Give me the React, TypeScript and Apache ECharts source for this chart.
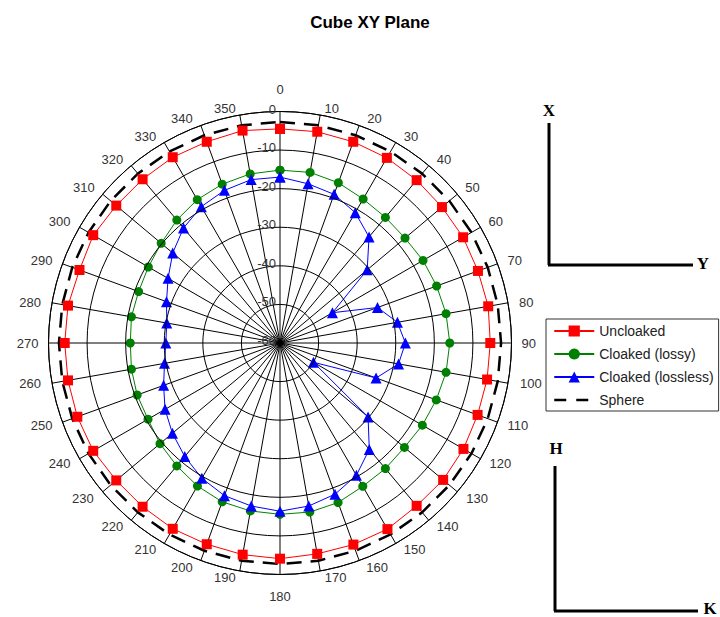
import React, { useEffect, useRef } from "react";
import * as echarts from "echarts";

const angles = [0, 10, 20, 30, 40, 50, 60, 70, 80, 90, 100, 110, 120, 130, 140, 150, 160, 170, 180, 190, 200, 210, 220, 230, 240, 250, 260, 270, 280, 290, 300, 310, 320, 330, 340, 350];
const angleTickLabels = ["0", "10", "20", "30", "40", "50", "60", "70", "80", "90", "100", "110", "120", "130", "140", "150", "160", "170", "180", "190", "200", "210", "220", "230", "240", "250", "260", "270", "280", "290", "300", "310", "320", "330", "340", "350"];
const radiusTicks = [-60, -50, -40, -30, -20, -10, 0];

const uncloaked = [-4.5, -4.4, -4.5, -4.6, -4.9, -5.2, -5.2, -5.4, -5.2, -5.5, -5.5, -5.5, -5.1, -4.8, -4.9, -4.3, -4.4, -4.5, -4.1, -4.3, -4.5, -4.4, -4.6, -4.6, -4.1, -4.1, -4.2, -4.2, -4.2, -4.7, -4.1, -4.6, -4.6, -4.4, -4.5, -4.1];
const cloakedLossy = [-15.2, -15.1, -15.8, -16.9, -17.5, -17.7, -17.2, -16.8, -16.3, -16.0, -16.3, -16.9, -17.4, -17.9, -17.5, -17.1, -16.0, -15.5, -15.6, -15.8, -16.2, -17.2, -18.4, -19.4, -20.5, -20.6, -20.9, -21.2, -20.9, -21.0, -20.6, -19.8, -18.4, -17.1, -16.2, -15.5];
const cloakedLossless = [-17.0, -18.1, -19.0, -21.0, -24.1, -30.5, -44.3, -33.1, -29.1, -27.5, -28.8, -33.5, -50.0, -30.2, -24.0, -20.4, -18.3, -17.1, -16.4, -17.1, -17.9, -19.5, -21.6, -23.6, -25.6, -27.9, -29.6, -30.4, -30.2, -28.7, -26.5, -23.7, -21.1, -19.2, -17.9, -17.0];
const sphere = [-2.7, -2.7, -2.7, -2.7, -2.7, -2.7, -2.7, -2.7, -2.7, -2.7, -2.7, -2.7, -2.7, -2.7, -2.7, -2.7, -2.7, -2.7, -2.7, -2.7, -2.7, -2.7, -2.7, -2.7, -2.7, -2.7, -2.7, -2.7, -2.7, -2.7, -2.7, -2.7, -2.7, -2.7, -2.7, -2.7];

// label placement styling (padding [top,right,bottom,left], optional lineHeight)
const labelPads: number[][] = [
  [0, 0, 16, 0], [0, 0, 0, 23], [0, 0, 0, 8], [0, 0, 0, 8], [0, 0, 0, 8], [0, 0, 0, 8], [0, 0, 0, 8], [0, 0, 0, 10], [0, 0, 0, 11], [0, 0, 0, 10],
  [0, 0, 0, 12], [0, 0, 0, 10], [0, 0, 0, 9], [0, 0, 0, 9], [0, 0, 0, 8], [0, 0, 0, 8], [0, 0, 0, 7], [0, 0, 0, 31], [15, 0, 0, 0], [0, 30, 0, 0],
  [0, 8, 0, 0], [0, 8, 0, 0], [0, 8, 0, 0], [0, 9, 0, 0], [0, 9, 0, 0], [0, 10, 0, 0], [0, 11, 0, 0], [0, 10, 0, 0], [0, 11, 0, 0], [0, 10, 0, 0],
  [0, 9, 0, 0], [0, 8, 0, 0], [0, 8, 0, 0], [0, 8, 0, 0], [0, 8, 0, 0], [0, 30, 0, 0],
];
const labelLineHeights: Record<number, number> = { 70: 6, 110: 6, 250: 6, 290: 6, 120: 10, 240: 10, 60: 12, 300: 12 };

const closed = (vals: number[]) => {
  const pts = vals.map((v, i) => [v, angles[i]]);
  pts.push([vals[0], 360]);
  return pts;
};

export default function App() {
  const ref = useRef<HTMLDivElement>(null);
  useEffect(() => {
    if (!ref.current) return;
    const chart = echarts.init(ref.current, undefined, { renderer: "svg" });
    const font = "Arial, 'Liberation Sans', sans-serif";
    const serif = "'Times New Roman', 'Liberation Serif', serif";
    const rich: Record<string, any> = {};
    angles.forEach((a, i) => {
      const st: any = { fontFamily: font, fontSize: 13, color: "#333", padding: labelPads[i] };
      if (labelLineHeights[a]) st.lineHeight = labelLineHeights[a];
      rich["a" + a] = st;
    });
    chart.setOption({
      animation: false,
      backgroundColor: "#ffffff",
      title: {
        text: "Cube XY Plane",
        left: 365,
        top: 9,
        textAlign: "center",
        textStyle: { fontFamily: font, fontSize: 17, fontWeight: "bold", color: "#000" },
      },
      polar: { center: [280, 343], radius: 231.5 },
      angleAxis: {
        type: "value",
        min: 0,
        max: 360,
        interval: 10,
        startAngle: 90,
        clockwise: true,
        axisLine: { show: true, lineStyle: { color: "#000", width: 1 } },
        axisTick: { show: false },
        axisLabel: {
          margin: 0,
          fontFamily: font,
          fontSize: 13,
          color: "#333",
          rich,
          formatter: (v: number) => {
            const i = angles.indexOf(v);
            return i >= 0 ? `{a${v}|${angleTickLabels[i]}}` : "";
          },
        },
        splitLine: { show: true, lineStyle: { color: "#000", width: 1 } },
      },
      radiusAxis: {
        type: "value",
        min: -60,
        max: 0,
        interval: 10,
        axisLine: { show: false },
        axisTick: { show: false },
        axisLabel: {
          fontFamily: font,
          fontSize: 13,
          color: "#333",
          margin: 4,
          rich: { r: { fontFamily: font, fontSize: 13, color: "#333", padding: [0, 0, 5, 0] } },
          formatter: (v: number) => (radiusTicks.indexOf(v) >= 0 ? `{r|${v}}` : ""),
        },
        splitLine: { show: true, lineStyle: { color: "#000", width: 1 } },
        z: 10,
      },
      legend: {
        orient: "vertical",
        left: 546,
        top: 319,
        itemWidth: 40,
        itemHeight: 14,
        itemGap: 9,
        padding: [5, 5, 4, 7],
        borderColor: "#333",
        borderWidth: 1,
        borderRadius: 0,
        textStyle: { fontFamily: font, fontSize: 14, color: "#222" },
        data: [
          "Uncloaked",
          "Cloaked (lossy)",
          "Cloaked (lossless)",
          { name: "Sphere", itemStyle: { opacity: 0 }, lineStyle: { type: [12, 10], width: 2.5, color: "#000" } },
        ],
      },
      series: [
        {
          name: "Sphere",
          type: "line",
          coordinateSystem: "polar",
          data: closed(sphere),
          showSymbol: false,
          symbol: "none",
          lineStyle: { color: "#000", width: 2.5, type: [15, 9] },
          itemStyle: { color: "#000" },
          z: 2,
        },
        {
          name: "Uncloaked",
          type: "line",
          coordinateSystem: "polar",
          data: closed(uncloaked),
          symbol: "rect",
          symbolSize: 10,
          lineStyle: { color: "#ff0000", width: 1 },
          itemStyle: { color: "#ff0000" },
          z: 3,
        },
        {
          name: "Cloaked (lossy)",
          type: "line",
          coordinateSystem: "polar",
          data: closed(cloakedLossy),
          symbol: "circle",
          symbolSize: 9,
          lineStyle: { color: "#008000", width: 1 },
          itemStyle: { color: "#008000" },
          z: 3,
        },
        {
          name: "Cloaked (lossless)",
          type: "line",
          coordinateSystem: "polar",
          data: closed(cloakedLossless),
          symbol: "triangle",
          symbolSize: 11,
          lineStyle: { color: "#0000ff", width: 1 },
          itemStyle: { color: "#0000ff" },
          z: 4,
        },
      ],
      graphic: [
        { type: "line", shape: { x1: 549, y1: 123, x2: 549, y2: 265 }, style: { stroke: "#000", lineWidth: 3 } },
        { type: "line", shape: { x1: 548, y1: 265, x2: 693, y2: 265 }, style: { stroke: "#000", lineWidth: 3 } },
        { type: "text", x: 549, y: 110, style: { text: "X", font: `bold 17px ${serif}`, fill: "#000", textAlign: "center", textVerticalAlign: "middle" } },
        { type: "text", x: 703, y: 263, style: { text: "Y", font: `bold 17px ${serif}`, fill: "#000", textAlign: "center", textVerticalAlign: "middle" } },
        { type: "line", shape: { x1: 555, y1: 466, x2: 555, y2: 611 }, style: { stroke: "#000", lineWidth: 3 } },
        { type: "line", shape: { x1: 554, y1: 611, x2: 698, y2: 611 }, style: { stroke: "#000", lineWidth: 3 } },
        { type: "text", x: 556, y: 448, style: { text: "H", font: `bold 17px ${serif}`, fill: "#000", textAlign: "center", textVerticalAlign: "middle" } },
        { type: "text", x: 710, y: 608, style: { text: "K", font: `bold 17px ${serif}`, fill: "#000", textAlign: "center", textVerticalAlign: "middle" } },
      ],
    });
    return () => chart.dispose();
  }, []);
  return <div ref={ref} style={{ position: "fixed", left: 0, top: 0, width: 720, height: 617, background: "#fff" }} />;
}
